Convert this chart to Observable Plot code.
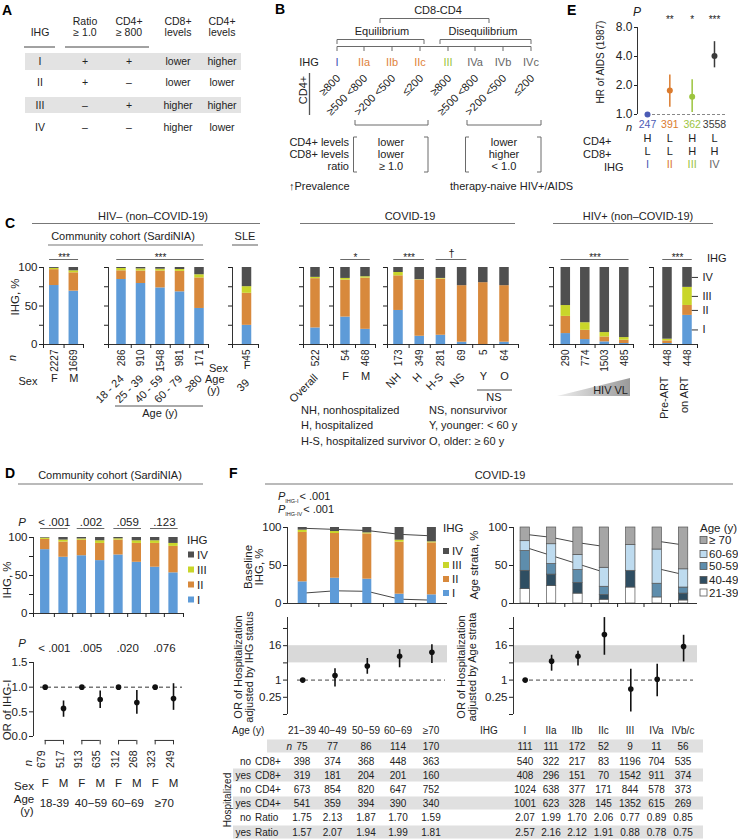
<!DOCTYPE html>
<html><head><meta charset="utf-8">
<script src="https://cdn.jsdelivr.net/npm/d3@7"></script>
<script src="https://cdn.jsdelivr.net/npm/@observablehq/plot@0.6"></script>
<style>
html,body{margin:0;padding:0;background:#fff;}
#root{position:relative;width:738px;height:839px;overflow:hidden;background:#fff;}
</style></head>
<body><div id="root"></div>
<script>
// ================= DATA =================
// Panel A
const aIHG = ["I","II","III","IV"];
const aRatio = ["+","+","–","–"];
const aCD4 = ["+","–","+","–"];
const aCD8Lev = ["lower","lower","higher","higher"];
const aCD4Lev = ["higher","lower","higher","lower"];
// Panel B
const bIHG = ["I","IIa","IIb","IIc","III","IVa","IVb","IVc"];
const bCD4 = ["≥800","≥500 <800",">200 <500","≤200","≥800","≥500 <800",">200 <500","≤200"];
const bRowLabels = ["CD4+ levels","CD8+ levels","ratio"];
const bEquil = ["lower","lower","≥ 1.0"];
const bDiseq = ["lower","higher","< 1.0"];
// Panel E
const eIHG = ["I","II","III","IV"];
const eHR = [1.0,1.77,1.53,4.05];
const eLow = [1.0,1.19,1.05,3.05];
const eHigh = [1.0,2.57,2.30,5.70];
const eN = [247,391,362,3558];
const eCD4 = ["H","L","H","L"];
const eCD8 = ["L","L","H","H"];
const eSig = ["","**","*","***"];
// Panel C
const cSexCat = ["F","M"], cSexN = [2227,1669];
const cSexI = [76.6,69.3], cSexII = [20.6,23.8], cSexIII = [1.6,2.6], cSexIV = [1.2,4.3];
const cAgeCat = ["18 - 24","25 - 39","40 - 59","60 - 79","≥80"], cAgeN = [286,910,1548,981,171];
const cAgeI = [84.4,79.2,73.5,68.4,46.8], cAgeII = [11.3,16.2,21.9,26.6,39.7], cAgeIII = [3.0,2.8,2.4,2.4,4.1], cAgeIV = [1.3,1.8,2.2,2.6,9.4];
const cSleN = [45], cSleI = [24.9], cSleII = [41.6], cSleIII = [8.6], cSleIV = [24.9];
const cCovAllN = [522], cCovAllI = [21.5], cCovAllII = [64.0], cCovAllIII = [1.7], cCovAllIV = [12.8];
const cCovSexCat = ["F","M"], cCovSexN = [54,468];
const cCovSexI = [35.6,19.7], cCovSexII = [48.0,66.5], cCovSexIII = [2.2,1.8], cCovSexIV = [14.2,12.0];
const cCovStatCat = ["NH","H","H-S","NS","Y","O"], cCovStatN = [173,349,281,69,5,64];
const cCovStatI = [44.2,10.7,12.0,3.0,0,3.0], cCovStatII = [45.0,73.0,73.0,73.4,80.3,73.4];
const cCovStatIII = [4.3,0.5,0.8,0,0,0], cCovStatIV = [6.5,15.8,14.2,23.6,19.7,23.6];
const cVlN = [290,774,1503,485];
const cVlI = [14.2,6.4,3.4,1.3], cVlII = [22.3,12.0,6.4,4.3], cVlIII = [14.1,9.9,5.7,3.4], cVlIV = [49.4,71.7,84.5,91.0];
const cArtCat = ["Pre-ART","on ART"], cArtN = [448,448];
const cArtI = [1.3,37.8], cArtII = [3.4,12.9], cArtIII = [2.2,23.5], cArtIV = [93.1,25.8];
// Panel D
const dSex = ["F","M","F","M","F","M","F","M"];
const dAgeGroups = ["18-39","40−59","60−69","≥70"];
const dN = [679,517,913,635,312,268,323,249];
const dI = [84.0,74.0,76.0,69.6,77.0,67.4,60.9,53.5];
const dII = [13.5,20.0,20.4,22.6,19.6,24.8,31.3,34.8];
const dIII = [1.7,2.6,1.7,3.5,1.7,3.5,3.5,3.9];
const dIV = [0.8,3.4,1.9,4.3,1.7,4.3,4.3,7.8];
const dPStack = ["< .001",".002",".059",".123"];
const dOR = [1,0.57,1,0.75,1,0.69,1,0.77];
const dORLow = [null,0.39,null,0.57,null,0.45,null,0.53];
const dORHigh = [null,0.72,null,0.92,null,0.93,null,1.07];
const dPOR = ["< .001",".005",".020",".076"];
// Panel F
const fAgeCat = ["21−39","40−49","50−59","60−69","≥70"];
const fAgeI = [28.5,33.3,32.0,12.3,11.4], fAgeII = [65.0,58.8,59.6,68.4,68.4];
const fAgeIII = [3.0,2.6,1.3,2.6,1.3], fAgeIV = [3.5,5.3,7.1,16.7,18.9];
const fTrendIV = [99.0,97.5,96.0,91.0,89.0];
const fTrendI = [13.6,16.7,16.0,5.7,4.4];
const fIhgCat = ["I","IIa","IIb","IIc","III","IVa","IVb/c"];
const fStrata = ["21-39","40-49","50-59","60-69","≥ 70"];
const fS2139 = [19,23,13,5,21,8,4];
const fS4049 = [24,15,14,6,22,0,9];
const fS5059 = [26,14,17,11,0,18,8];
const fS6069 = [13,26,20,25,34,45,24];
const fS70 = [18,22,36,53,23,29,55];
const fTrendA = [91,87,80,75], fTrendB = [74,63,52,41], fTrendC = [82,77], fTrendD = [46,38];
const fOrAge = [1,1.45,3.1,6.8,9.4], fOrAgeLow = [null,0.57,1.6,2.7,3.8], fOrAgeHigh = [null,2.5,5.7,11.6,17.3];
const fOrIhg = [1,4.6,6.8,39.5,0.49,1.07,15], fOrIhgLow = [null,2.05,3.1,7.4,0.077,0.26,4.3], fOrIhgHigh = [null,7.4,10.2,154,2.4,3.6,37];
// Panel F tables
const tRowHosp = ["no","yes","no","yes","no","yes"];
const tRowVar = ["CD8+","CD8+","CD4+","CD4+","Ratio","Ratio"];
const tAgeN = [75,77,86,114,170];
const tAgeNoCD8 = [398,374,368,448,363];
const tAgeYesCD8 = [319,181,204,201,160];
const tAgeNoCD4 = [673,854,820,647,752];
const tAgeYesCD4 = [541,359,394,390,340];
const tAgeNoRatio = [1.75,2.13,1.87,1.70,1.59];
const tAgeYesRatio = [1.57,2.07,1.94,1.99,1.81];
const tIhgN = [111,111,172,52,9,11,56];
const tIhgNoCD8 = [540,322,217,83,1196,704,535];
const tIhgYesCD8 = [408,296,151,70,1542,911,374];
const tIhgNoCD4 = [1024,638,377,171,844,578,373];
const tIhgYesCD4 = [1001,623,328,145,1352,615,269];
const tIhgNoRatio = [2.07,1.99,1.70,2.06,0.77,0.89,0.85];
const tIhgYesRatio = [2.57,2.16,2.12,1.91,0.88,0.78,0.75];

// ================= HELPERS =================
const root = document.getElementById("root");
const FONT = '"Liberation Sans", Arial, Helvetica, sans-serif';
const INK = "#222", AX = "#333", LINE = "#6a6a6a";
const IHGC = {I:"#5E9BD8", II:"#D8893C", III:"#C9D62A", IV:"#4F4F4F"};
const ECOL = {I:"#4B5BB5", II:"#DB7B2E", III:"#9CC43E", IV:"#3A3A3A"};
const BCOL = {I:"#3F51B5", II:"#E0823A", III:"#9BC53D", IV:"#666666"};
const AGEC = {"21-39":"#FFFFFF","40-49":"#2F4E62","50-59":"#5E8DAC","60-69":"#BEDBEF","≥ 70":"#A6A6A6"};

function ihgSeries(I,II,III,IV){return [{key:"I",values:I},{key:"II",values:II},{key:"III",values:III},{key:"IV",values:IV}];}
function stackRows(series){
  const n=series[0].values.length, rows=[];
  for(let i=0;i<n;i++){let acc=0;for(const s of series){const v=s.values[i];if(v>0)rows.push({i,key:s.key,y1:acc,y2:acc+v});acc+=v;}}
  return rows;
}
function xdom(L,R,c0,step){return [(L-c0)/step,(R-c0)/step];}
function mkPlot(f,x,y,marks,fs){
  const m=40;
  const svg=Plot.plot({
    width:f.R-f.L+2*m, height:f.B-f.T+2*m,
    marginLeft:m, marginRight:m, marginTop:m, marginBottom:m,
    x:{...x,label:null,axis:null}, y:{...y,label:null,axis:null},
    color:{type:"identity"},
    style:{fontFamily:FONT,fontSize:(fs||11)+"px",color:INK,background:"transparent",overflow:"visible"},
    marks
  });
  svg.style.position="absolute"; svg.style.left=(f.L-m)+"px"; svg.style.top=(f.T-m)+"px";
  root.appendChild(svg);
  return svg;
}

// ================= PANEL C charts =================
function cChart(p){
  const T0=267,B0=344,bw=9.5,hw=bw/2/p.step;
  const [d0,d1]=xdom(p.L,p.R,p.c0,p.step);
  const N=p.n.length, idx=d3.range(N);
  const rows=stackRows(p.series);
  const bounds=[d0,...d3.range(N-1).map(i=>i+0.5),d1];
  const yv=py=>100+(T0-py)*100/(B0-T0);
  const marks=[
    Plot.rect(rows,{x1:d=>d.i-hw,x2:d=>d.i+hw,y1:"y1",y2:"y2",fill:d=>IHGC[d.key]}),
    Plot.ruleY([0],{stroke:AX}),
    Plot.ruleX([d0],{stroke:AX}),
    Plot.axisY({ticks:[0,25,50,75,100],tickSize:4,tickPadding:2,tickFormat:d=>(p.yl&&d%50===0)?String(d):""}),
    Plot.axisX({ticks:bounds,tickSize:4,tickFormat:()=>""}),
    Plot.text(idx,{x:i=>i,y:0,text:i=>String(p.n[i]),rotate:-90,textAnchor:"end",dy:5,fontSize:10})
  ];
  (p.sig||[]).forEach(([a,b,s])=>{
    marks.push(Plot.ruleY([yv(259)],{x1:a-hw,x2:b+hw,stroke:LINE}));
    marks.push(Plot.text([s],{x:(a+b)/2,y:s==="†"?yv(252.5):yv(257),text:d=>d,fontSize:s==="†"?11:10}));
  });
  (p.labels||[]).forEach(l=>{
    const ii=idx.filter(i=>l.text[i]!=null);
    marks.push(Plot.text(ii,{x:i=>i,frameAnchor:"bottom",dy:l.dy,dx:l.dx||0,rotate:l.rotate||0,textAnchor:l.rotate?"end":"middle",text:i=>l.text[i],fontSize:11}));
  });
  if(p.legend){
    const last=rows.filter(d=>d.i===N-1);
    marks.push(Plot.ruleY(last,{y:d=>(d.y1+d.y2)/2,x1:N-1+hw,x2:N-1+11/p.step,stroke:AX}));
    marks.push(Plot.text(last,{x:N-1,y:d=>(d.y1+d.y2)/2,text:"key",dx:15,textAnchor:"start",fontSize:11}));
  }
  mkPlot({L:p.L,R:p.R,T:T0,B:B0},{domain:[d0,d1]},{domain:[0,100]},marks,11.5);
}
cChart({L:43,R:83,c0:53.8,step:19.5,n:cSexN,series:ihgSeries(cSexI,cSexII,cSexIII,cSexIV),yl:true,sig:[[0,1,"***"]],labels:[{text:cSexCat,dy:37}]});
cChart({L:108,R:208,c0:121,step:19.5,n:cAgeN,series:ihgSeries(cAgeI,cAgeII,cAgeIII,cAgeIV),sig:[[0,4,"***"]],labels:[{text:cAgeCat,dy:35,dx:3,rotate:-45}]});
cChart({L:232,R:258,c0:246.5,step:19.5,n:cSleN,series:ihgSeries(cSleI,cSleII,cSleIII,cSleIV),labels:[{text:["F"],dy:24},{text:["39"],dy:39,dx:3,rotate:-45}]});
cChart({L:303,R:327,c0:315,step:20,n:cCovAllN,series:ihgSeries(cCovAllI,cCovAllII,cCovAllIII,cCovAllIV),labels:[{text:["Overall"],dy:34,dx:3,rotate:-45}]});
cChart({L:333,R:375,c0:345,step:20,n:cCovSexN,series:ihgSeries(cCovSexI,cCovSexII,cCovSexIII,cCovSexIV),sig:[[0,1,"*"]],labels:[{text:cCovSexCat,dy:35}]});
cChart({L:387,R:518,c0:398,step:21.2,n:cCovStatN,series:ihgSeries(cCovStatI,cCovStatII,cCovStatIII,cCovStatIV),sig:[[0,1,"***"],[2,3,"†"]],
  labels:[{text:cCovStatCat.map((c,i)=>i<4?c:null),dy:33,dx:3,rotate:-45},{text:cCovStatCat.map((c,i)=>i>=4?c:null),dy:35}]});
cChart({L:553,R:633,c0:565.3,step:19.5,n:cVlN,series:ihgSeries(cVlI,cVlII,cVlIII,cVlIV),sig:[[0,3,"***"]]});
cChart({L:653,R:697,c0:667,step:20,n:cArtN,series:ihgSeries(cArtI,cArtII,cArtIII,cArtIV),sig:[[0,1,"***"]],labels:[{text:cArtCat,dy:32,dx:0,rotate:-90}],legend:true});

// ================= PANEL E =================
(function(){
  const L=637,R=727,T=27,B=114,c0=647,step=22.33;
  const [d0,d1]=xdom(L,R,c0,step);
  const idx=d3.range(4), col=i=>ECOL[eIHG[i]];
  const ci=idx.filter(i=>eLow[i]!==eHigh[i]);
  mkPlot({L,R,T,B},{domain:[d0,d1]},{type:"log",domain:[1,8]},[
    Plot.ruleX([d0],{stroke:AX}),
    Plot.axisY({ticks:[1,2,4,8],tickFormat:d3.format(".1f"),tickSize:3,tickPadding:2}),
    Plot.ruleY([1],{x1:0,x2:d1,stroke:"#888",strokeDasharray:"3,2"}),
    Plot.ruleX(ci,{x:i=>i,y1:i=>eLow[i],y2:i=>eHigh[i],stroke:col,strokeWidth:1.5}),
    Plot.dot(idx,{x:i=>i,y:i=>eHR[i],r:3,fill:col}),
    Plot.text(idx,{x:i=>i,frameAnchor:"top",dy:-12,text:i=>eSig[i],fontSize:10}),
    Plot.text(idx,{x:i=>i,frameAnchor:"bottom",dy:13,text:i=>String(eN[i]),fill:col,fontSize:10.5}),
    Plot.text(idx,{x:i=>i,frameAnchor:"bottom",dy:27,text:i=>eCD4[i],fontSize:11}),
    Plot.text(idx,{x:i=>i,frameAnchor:"bottom",dy:40,text:i=>eCD8[i],fontSize:11}),
    Plot.text(idx,{x:i=>i,frameAnchor:"bottom",dy:53,text:i=>eIHG[i],fill:i=>i===3?"#666":col(i),fontSize:11})
  ],12);
})();

// ================= PANEL D =================
(function(){
  const L=33,R=183,c0=44.7,step=18.33,bw=9.3,hw=bw/2/step;
  const [d0,d1]=xdom(L,R,c0,step);
  const idx=d3.range(8), pairs=d3.range(4);
  const bounds=[d0,...d3.range(7).map(i=>i+0.5),d1];
  const T1=537,B1=613, yv=py=>100+(T1-py)*100/(B1-T1);
  mkPlot({L,R,T:T1,B:B1},{domain:[d0,d1]},{domain:[0,100]},[
    Plot.rect(stackRows(ihgSeries(dI,dII,dIII,dIV)),{x1:d=>d.i-hw,x2:d=>d.i+hw,y1:"y1",y2:"y2",fill:d=>IHGC[d.key]}),
    Plot.ruleY([0],{stroke:AX}), Plot.ruleX([d0],{stroke:AX}),
    Plot.axisY({ticks:[0,25,50,75,100],tickSize:4,tickPadding:2,tickFormat:d=>d%50===0?String(d):""}),
    Plot.axisX({ticks:bounds,tickSize:4,tickFormat:()=>""}),
    Plot.ruleY(pairs,{y:yv(528),x1:p=>2*p-hw,x2:p=>2*p+1+hw,stroke:LINE}),
    Plot.text(pairs,{x:p=>2*p+0.5,y:yv(522),text:p=>dPStack[p],fontSize:11.5})
  ],11.5);
  const T2=662,B2=736;
  const ci=idx.filter(i=>dORLow[i]!=null);
  mkPlot({L,R,T:T2,B:B2},{domain:[d0,d1]},{domain:[0,1.5]},[
    Plot.ruleX([d0],{stroke:AX}),
    Plot.axisY({ticks:[0,0.5,1,1.5],tickSize:4,tickPadding:2,tickFormat:d3.format(".1f")}),
    Plot.ruleY([1],{x1:(40-c0)/step,x2:(182-c0)/step,stroke:"#333",strokeDasharray:"4,3"}),
    Plot.ruleX(ci,{x:i=>i,y1:i=>dORLow[i],y2:i=>dORHigh[i],stroke:"#111",strokeWidth:1.6}),
    Plot.dot(idx,{x:i=>i,y:i=>dOR[i],r:2.8,fill:"#111"}),
    Plot.ruleY(pairs,{x1:p=>2*p,x2:p=>2*p+1,y:-0.08,stroke:"#333"}),
    Plot.ruleX(idx,{x:i=>i,y1:-0.08,y2:-0.17,stroke:"#333"}),
    Plot.text(idx,{x:i=>i,frameAnchor:"bottom",dy:14,rotate:-90,textAnchor:"end",text:i=>String(dN[i]),fontSize:10.5}),
    Plot.text(idx,{x:i=>i,frameAnchor:"bottom",dy:50,text:i=>dSex[i],fontSize:11.5}),
    Plot.text(pairs,{x:p=>2*p+0.5,frameAnchor:"bottom",dy:70,text:p=>dAgeGroups[p],fontSize:11.5}),
    Plot.text(pairs,{x:p=>2*p+0.5,frameAnchor:"top",dy:-19,text:p=>dPOR[p],fontSize:11.5})
  ],11.5);
})();

// ================= PANEL F charts =================
const fLab = {0.0625:"2⁻⁴",0.25:"0.25",1:"1",4:"4",16:"16",64:"64"};
(function(){
  const L=287,R=447,T=527,B=603,c0=302.2,step=32.3,bw=9,hw=bw/2/step;
  const [d0,d1]=xdom(L,R,c0,step), idx=d3.range(5);
  mkPlot({L,R,T,B},{domain:[d0,d1]},{domain:[0,100]},[
    Plot.line(idx,{x:i=>i,y:i=>fTrendIV[i],stroke:"#333",strokeWidth:0.9}),
    Plot.line(idx,{x:i=>i,y:i=>fTrendI[i],stroke:"#333",strokeWidth:0.9}),
    Plot.rect(stackRows(ihgSeries(fAgeI,fAgeII,fAgeIII,fAgeIV)),{x1:d=>d.i-hw,x2:d=>d.i+hw,y1:"y1",y2:"y2",fill:d=>IHGC[d.key]}),
    Plot.ruleY([0],{stroke:AX}), Plot.ruleX([d0],{stroke:AX}),
    Plot.axisY({ticks:[0,50,100],tickSize:4,tickPadding:2}),
    Plot.axisX({ticks:d3.range(4).map(i=>i+0.5),tickSize:4,tickFormat:()=>""})
  ],11.5);
  const ci=idx.filter(i=>fOrAgeLow[i]!=null);
  mkPlot({L,R,T:617,B:714},{domain:[d0,d1]},{type:"log",domain:[1/16,155]},[
    Plot.rect([0],{x1:d0,x2:d1,y1:4,y2:16,fill:"#D9D9D9"}),
    Plot.ruleX([d0],{stroke:AX}),
    Plot.axisY({ticks:[1/16,0.25,1,4,16,64],tickFormat:d=>fLab[d],tickSize:4,tickPadding:2}),
    Plot.ruleY([1],{x1:(297-c0)/step,x2:(445-c0)/step,stroke:"#444",strokeDasharray:"4,3"}),
    Plot.ruleX(ci,{x:i=>i,y1:i=>fOrAgeLow[i],y2:i=>fOrAgeHigh[i],stroke:"#111",strokeWidth:1.6}),
    Plot.dot(idx,{x:i=>i,y:i=>fOrAge[i],r:2.8,fill:"#111"})
  ],11.5);
})();
(function(){
  const L=513,R=697,T=527,B=603,c0=524.7,step=26.4,bw=9.3,hw=bw/2/step;
  const [d0,d1]=xdom(L,R,c0,step), idx=d3.range(7);
  const series=[fS2139,fS4049,fS5059,fS6069,fS70].map((v,k)=>({key:fStrata[k],values:v}));
  mkPlot({L,R,T,B},{domain:[d0,d1]},{domain:[0,100]},[
    Plot.line(fTrendA,{x:(d,i)=>i,y:d=>d,stroke:"#333",strokeWidth:0.9}),
    Plot.line(fTrendB,{x:(d,i)=>i,y:d=>d,stroke:"#333",strokeWidth:0.9}),
    Plot.line(fTrendC,{x:(d,i)=>i+5,y:d=>d,stroke:"#333",strokeWidth:0.9}),
    Plot.line(fTrendD,{x:(d,i)=>i+5,y:d=>d,stroke:"#333",strokeWidth:0.9}),
    Plot.rect(stackRows(series),{x1:d=>d.i-hw,x2:d=>d.i+hw,y1:"y1",y2:"y2",fill:d=>AGEC[d.key],stroke:"#555",strokeWidth:0.7}),
    Plot.ruleY([0],{stroke:AX}), Plot.ruleX([d0],{stroke:AX}),
    Plot.axisY({ticks:[0,50,100],tickSize:4,tickPadding:2}),
    Plot.axisX({ticks:d3.range(6).map(i=>i+0.5),tickSize:4,tickFormat:()=>""})
  ],11.5);
  const ci=idx.filter(i=>fOrIhgLow[i]!=null);
  mkPlot({L,R,T:617,B:714},{domain:[d0,d1]},{type:"log",domain:[1/16,155]},[
    Plot.rect([0],{x1:d0,x2:d1,y1:4,y2:16,fill:"#D9D9D9"}),
    Plot.ruleX([d0],{stroke:AX}),
    Plot.axisY({ticks:[1/16,0.25,1,4,16,64],tickFormat:d=>fLab[d],tickSize:4,tickPadding:2}),
    Plot.ruleY([1],{x1:(522-c0)/step,x2:(693-c0)/step,stroke:"#444",strokeDasharray:"4,3"}),
    Plot.ruleX(ci,{x:i=>i,y1:i=>fOrIhgLow[i],y2:i=>fOrIhgHigh[i],stroke:"#111",strokeWidth:1.6}),
    Plot.dot(idx,{x:i=>i,y:i=>fOrIhg[i],r:2.8,fill:"#111"})
  ],11.5);
})();

// ================= OVERLAY (text, tables, brackets) =================
const ov=d3.select(root).append("svg").attr("width",738).attr("height",839)
  .style("position","absolute").style("left","0px").style("top","0px")
  .attr("font-family",FONT).attr("fill",INK);
function T(x,y,s,o={}){
  const t=ov.append("text").attr("x",x).attr("y",y).attr("text-anchor",o.a||"middle").attr("font-size",o.s||11).attr("fill",o.c||INK);
  if(o.w)t.attr("font-weight",o.w);
  if(o.i)t.attr("font-style","italic");
  if(o.r!=null)t.attr("transform",`rotate(${o.r},${x},${y})`);
  t.text(s);return t;
}
function Ln(pts,o={}){ov.append("polyline").attr("points",pts.map(p=>p.join(",")).join(" ")).attr("fill","none").attr("stroke",o.c||LINE).attr("stroke-width",o.w||1);}
function Rc(x,y,w,h,fill,stroke){const r=ov.append("rect").attr("x",x).attr("y",y).attr("width",w).attr("height",h).attr("fill",fill);if(stroke)r.attr("stroke",stroke).attr("stroke-width",0.8);}
function PSub(x,y,sub,rest){
  const t=ov.append("text").attr("x",x).attr("y",y).attr("text-anchor","start").attr("font-size",11).attr("fill",INK);
  t.append("tspan").attr("font-style","italic").text("P");
  t.append("tspan").attr("font-size",5.5).attr("dy",3).text(sub);
  t.append("tspan").attr("dy",-3).attr("dx",1).text(rest);
}

// ---- Panel A ----
T(2,15,"A",{s:14,w:"bold",a:"start",c:"#000"});
Rc(25,53,216,17,"#E3E3E3"); Rc(25,97,216,16,"#E3E3E3");
T(40,36,"IHG",{s:10.5});
T(85,25,"Ratio",{s:10.5}); T(85,36,"≥ 1.0",{s:10.5});
T(129,25,"CD4+",{s:10.5}); T(129,36,"≥ 800",{s:10.5});
T(178,25,"CD8+",{s:10.5}); T(178,36,"levels",{s:10.5});
T(222,25,"CD4+",{s:10.5}); T(222,36,"levels",{s:10.5});
Ln([[24,47],[55,47]],{c:"#444"}); Ln([[65,47],[149,47]],{c:"#444"});
const aY=[65,86,109,131];
aIHG.forEach((g,i)=>{T(40,aY[i],g,{s:10.5});T(85,aY[i],aRatio[i],{s:10.5});T(129,aY[i],aCD4[i],{s:10.5});T(178,aY[i],aCD8Lev[i],{s:10.5});T(222,aY[i],aCD4Lev[i],{s:10.5});});

// ---- Panel B ----
T(275,14,"B",{s:14,w:"bold",a:"start",c:"#000"});
T(438,14,"CD8-CD4");
Ln([[380,23],[380,18.5],[489,18.5],[489,23]]);
T(382,35,"Equilibrium"); T(483,35,"Disequilibrium");
Ln([[337,44],[337,39.5],[424,39.5],[424,44]]);
Ln([[440,44],[440,39.5],[531,39.5],[531,44]]);
const bX=[337,364,392,420,448,475,503,531];
Ln([[337,46.5],[531,46.5]]);
bX.forEach(x=>Ln([[x,46.5],[x,51]]));
T(309,66,"IHG");
bIHG.forEach((g,j)=>{T(bX[j],66,g,{c:BCOL[g.replace(/[abc]$/,"")]});T(bX[j]+4,79,bCD4[j],{a:"end",r:-45});});
T(307,90,"CD4+",{r:-90});
Ln([[309.5,73],[309.5,115]],{c:"#555",w:1.3});
Ln([[355,120],[355,125],[428,125],[428,120]]);
Ln([[467,120],[467,125],[541,125],[541,120]]);
bRowLabels.forEach((l,k)=>{const y=146+12*k;T(349,y,l,{a:"end"});T(391,y,bEquil[k]);T(504,y,bDiseq[k]);});
Ln([[357,137],[353.5,137],[353.5,172],[357,172]]); Ln([[424,137],[428,137],[428,172],[424,172]]);
Ln([[469,137],[465.5,137],[465.5,172],[469,172]]); Ln([[537,137],[541,137],[541,172],[537,172]]);
T(289,190,"↑Prevalence",{a:"start"});
T(450,190,"therapy-naive HIV+/AIDS",{a:"start"});

// ---- Panel E ----
T(567,15,"E",{s:14,w:"bold",a:"start",c:"#000"});
T(637,16,"P",{i:true,s:12});
T(604,62,"HR of AIDS (1987)",{r:-90,s:10});
T(632,131,"n",{i:true,a:"end",s:11});
T(583,145,"CD4+",{a:"start",s:11}); T(583,158,"CD8+",{a:"start",s:11}); T(604,171,"IHG",{a:"start",s:11});

// ---- Panel C ----
T(5,228,"C",{s:14,w:"bold",a:"start",c:"#000"});
T(153,220,"HIV– (non–COVID-19)"); Ln([[32,223.5],[260,223.5]],{c:"#777",w:1.2});
T(123,240,"Community cohort (SardiNIA)"); Ln([[48,245],[203,245]],{c:"#777",w:1.2});
T(245,240,"SLE"); Ln([[232,245],[258,245]],{c:"#777",w:1.2});
T(410,220,"COVID-19"); Ln([[300,223.5],[515,223.5]],{c:"#777",w:1.2});
T(638,220,"HIV+ (non–COVID-19)"); Ln([[553,223.5],[713,223.5]],{c:"#777",w:1.2});
T(18.5,297,"IHG, %",{r:-90,s:11.5});
T(16,358,"n",{r:-90,i:true});
T(28,385,"Sex");
T(228,372,"Sex",{a:"end"}); T(205,383,"Age",{a:"start"}); T(207,394,"(y)",{a:"start"});
Ln([[115,406],[203,406]],{c:"#555"}); T(160,417,"Age (y)");
Ln([[477,390],[512,390]],{c:"#555"}); T(494,401,"NS");
const gr=ov.append("defs").append("linearGradient").attr("id","vlg").attr("x1","0").attr("x2","1");
gr.append("stop").attr("offset","0").attr("stop-color","#EEEEEE");
gr.append("stop").attr("offset","1").attr("stop-color","#9A9A9A");
ov.append("polygon").attr("points","557,396 630,378 630,396").attr("fill","url(#vlg)");
T(628,394,"HIV VL",{a:"end"});
T(707,262,"IHG",{a:"start"});
T(301,414,"NH, nonhospitalized",{a:"start"});
T(301,429,"H, hospitalized",{a:"start"});
T(301,445,"H-S, hospitalized survivor",{a:"start"});
T(429,414,"NS, nonsurvivor",{a:"start"});
T(429,429,"Y, younger: < 60 y",{a:"start"});
T(429,445,"O, older: ≥ 60 y",{a:"start"});

// ---- Panel D ----
T(5,478,"D",{s:14,w:"bold",a:"start",c:"#000"});
T(110,479,"Community cohort (SardiNIA)"); Ln([[18,484],[203,484]],{c:"#777",w:1.2});
T(22,526,"P",{i:true,s:11.5});
T(11,580,"IHG, %",{r:-90,s:11.5});
T(187,544,"IHG",{a:"start",s:11.5});
["IV","III","II","I"].forEach((g,k)=>{const cy=554.5+15*k;Rc(188,cy-3,6,6,IHGC[g]);T(197,cy+4,g,{a:"start",s:11.5});});
T(22,647,"P",{i:true,s:11.5});
T(11,710,"OR of IHG-I",{r:-90,s:11.5});
T(32,763,"n",{r:-90,i:true,s:11.5});
T(24,790,"Sex",{s:11.5}); T(24,803,"Age",{s:11.5}); T(27,815,"(y)",{s:11.5});

// ---- Panel F ----
T(229,478,"F",{s:14,w:"bold",a:"start",c:"#000"});
T(500,479,"COVID-19"); Ln([[265,484],[733,484]],{c:"#777",w:1.2});
PSub(278,500,"IHG-I","< .001");
PSub(278,513,"IHG-IV","< .001");
T(252,567,"Baseline",{r:-90,s:11.5}); T(263,567,"IHG, %",{r:-90,s:11.5});
T(443,532,"IHG",{a:"start",s:11.5});
["IV","III","II","I"].forEach((g,k)=>{const cy=551+14*k;Rc(443,cy-3,6,6,IHGC[g]);T(452,cy+4,g,{a:"start",s:11.5});});
T(478,565,"Age strata, %",{r:-90,s:11.5});
T(700,532,"Age (y)",{a:"start",s:11.5});
const ageLeg=["≥ 70","60-69","50-59","40-49","21-39"], ageLegY=[540,554,566,580,592.5];
ageLeg.forEach((g,k)=>{Rc(700,ageLegY[k]-3.5,7,7,AGEC[g],"#555");T(709,ageLegY[k]+4,g,{a:"start",s:11.5});});
T(242,667,"OR of Hospitalization",{r:-90,s:11}); T(253,667,"adjusted by IHG status",{r:-90,s:11});
T(465,667,"OR of Hospitalization",{r:-90,s:11}); T(476,667,"adjusted by Age strata",{r:-90,s:11});

// ---- Tables ----
const tRowY=[746,761,775,789,803,817,832];
[0,2,4,6].forEach(k=>{const x0=k===0?267:233;Rc(x0,tRowY[k]-6.5,703-x0,13,"#E0E0E0");});
const tLX=[302,332.5,366,398,431], tRX=[525,551,577,603.5,630,656.5,683];
T(232,733.5,"Age (y)",{a:"start",s:10});
fAgeCat.forEach((c,j)=>T(tLX[j],733.5,c,{s:10}));
T(480,733.5,"IHG",{a:"start",s:10});
fIhgCat.forEach((c,j)=>T(tRX[j],733.5,c,{s:10}));
T(292,749.5,"n",{a:"end",i:true,s:10});
tRowHosp.forEach((h,k)=>{const y=tRowY[k+1]+3.5;T(251,y,h,{a:"end",s:10});T(255,y,tRowVar[k],{a:"start",s:10});});
const tLeft=[tAgeN,tAgeNoCD8,tAgeYesCD8,tAgeNoCD4,tAgeYesCD4,tAgeNoRatio,tAgeYesRatio];
const tRight=[tIhgN,tIhgNoCD8,tIhgYesCD8,tIhgNoCD4,tIhgYesCD4,tIhgNoRatio,tIhgYesRatio];
tLeft.forEach((row,k)=>row.forEach((v,j)=>T(tLX[j],tRowY[k]+3.5,k>=5?v.toFixed(2):String(v),{s:10})));
tRight.forEach((row,k)=>row.forEach((v,j)=>T(tRX[j],tRowY[k]+3.5,k>=5?v.toFixed(2):String(v),{s:10})));
T(231,800,"Hospitalized",{r:-90,s:10});
</script></body></html>
